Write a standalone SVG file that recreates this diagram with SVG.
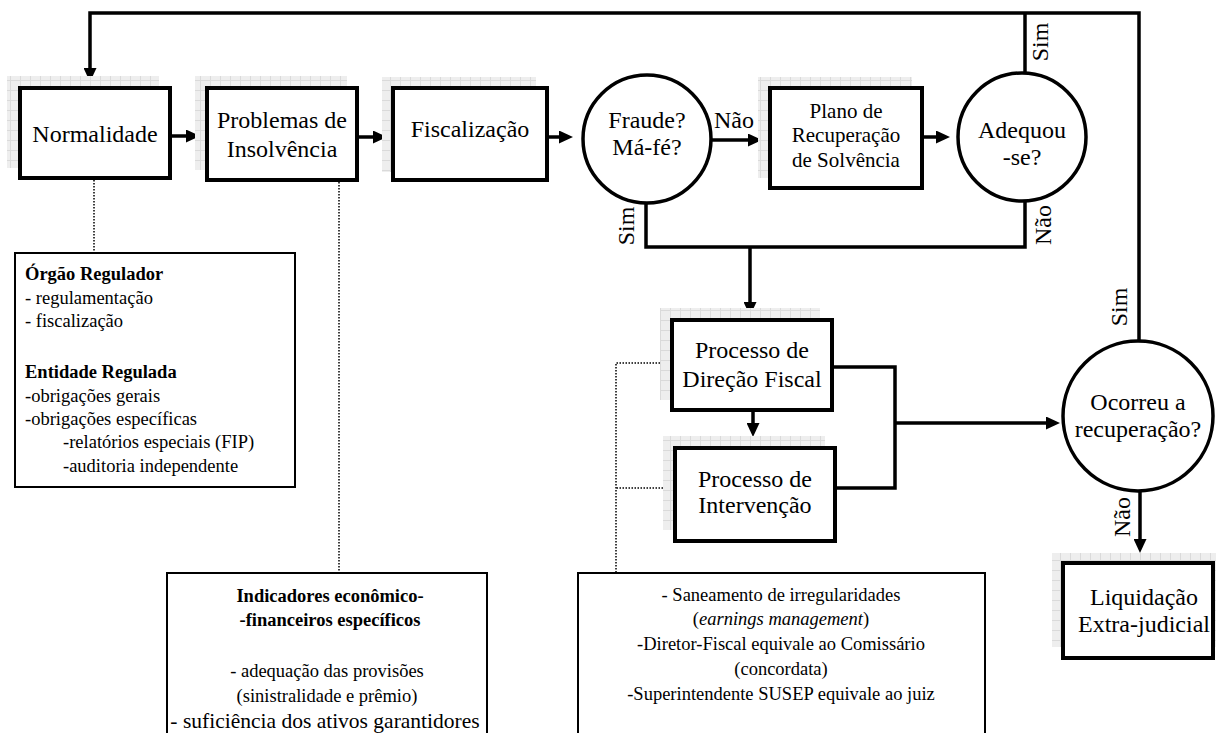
<svg xmlns="http://www.w3.org/2000/svg" width="1216" height="733" viewBox="0 0 1216 733" font-family="'Liberation Serif', 'DejaVu Serif', 'Noto Serif', 'Times New Roman', serif">
<style>
text{font-family:"Liberation Serif","DejaVu Serif","Noto Serif","Times New Roman",serif;fill:#000}
.box{fill:#fff;stroke:#000;stroke-width:4}
.circ{fill:#fff;stroke:#000;stroke-width:3.5}
.note{fill:#fff;stroke:#000;stroke-width:2}
.shadow{fill:url(#grid)}
.c{fill:none;stroke:#000;stroke-width:3.5}
.dot{fill:none;stroke:#000;stroke-width:1.5;stroke-dasharray:1.5 1.5}
.t24{font-size:24px;text-anchor:middle}
.t21{font-size:21px;text-anchor:middle}
.lab{font-size:24px;text-anchor:middle}
.n18{font-size:18.5px}
.b{font-weight:bold}
.m{text-anchor:middle}
</style>
<defs>
<pattern id="grid" width="10" height="10" patternUnits="userSpaceOnUse">
<rect width="10" height="10" fill="#eeeeee"/>
<path d="M0,0.5 H10 M0.5,0 V10" stroke="#dadada" stroke-width="1"/>
</pattern>
<marker id="ah" viewBox="0 0 14 13" refX="6" refY="6.5" markerWidth="14" markerHeight="13" markerUnits="userSpaceOnUse" orient="auto">
<path d="M0,0 L14,6.5 L0,13 Z" fill="#000"/>
</marker>
</defs>

<g id="connectors">
<path class="c" d="M1139,340 V13 H90 V74" marker-end="url(#ah)"/>
<path class="c" d="M1025,72 V13"/>
<path class="c" d="M170,136 H192" marker-end="url(#ah)"/>
<path class="c" d="M357,137 H379" marker-end="url(#ah)"/>
<path class="c" d="M547,137 H565" marker-end="url(#ah)"/>
<path class="c" d="M712,140 H754" marker-end="url(#ah)"/>
<path class="c" d="M922,137 H942" marker-end="url(#ah)"/>
<path class="c" d="M646,203 V247 H1025 V202"/>
<path class="c" d="M750,247 V308" marker-end="url(#ah)"/>
<path class="c" d="M753,410 V429" marker-end="url(#ah)"/>
<path class="c" d="M832,367 H895 V488 H835"/>
<path class="c" d="M895,423 H1052" marker-end="url(#ah)"/>
<path class="c" d="M1140,492 V545" marker-end="url(#ah)"/>
<path class="dot" d="M94,180 V253"/>
<path class="dot" d="M339,182 V573"/>
<path class="dot" d="M660,363 H616 V573"/>
<path class="dot" d="M663,488 H616"/>
<text class="lab" transform="translate(734,128)">Não</text>
<text class="lab" transform="translate(634,226) rotate(-90)">Sim</text>
<text class="lab" transform="translate(1048,42) rotate(-90)">Sim</text>
<text class="lab" transform="translate(1051,225) rotate(-90)">Não</text>
<text class="lab" transform="translate(1127,307) rotate(-90)">Sim</text>
<text class="lab" transform="translate(1130,517) rotate(-90)">Não</text>
</g>

<g id="normalidade">
<rect class="shadow" x="7" y="76" width="152" height="92"/>
<rect class="box" x="20" y="88" width="150" height="90"/>
<text class="t24" x="95" y="142">Normalidade</text>
</g>

<g id="problemas">
<rect class="shadow" x="195" y="76" width="152" height="94"/>
<rect class="box" x="207" y="88" width="150" height="92"/>
<text class="t24" x="282" y="128">Problemas de</text>
<text class="t24" x="282" y="157">Insolvência</text>
</g>

<g id="fiscalizacao">
<rect class="shadow" x="382" y="77" width="154" height="95"/>
<rect class="box" x="393" y="88" width="154" height="92"/>
<text class="t24" x="470" y="137">Fiscalização</text>
</g>

<g id="fraude">
<circle class="circ" cx="647" cy="139" r="64"/>
<text class="t24" x="647" y="128">Fraude?</text>
<text class="t24" x="647" y="155">Má-fé?</text>
</g>

<g id="plano">
<rect class="shadow" x="758" y="77" width="154" height="101"/>
<rect class="box" x="770" y="88" width="152" height="100"/>
<text class="t21" x="846" y="118">Plano de</text>
<text class="t21" x="846" y="142">Recuperação</text>
<text class="t21" x="846" y="167">de Solvência</text>
</g>

<g id="adequou">
<circle class="circ" cx="1022" cy="137" r="64"/>
<text class="t24" x="1022" y="138">Adequou</text>
<text class="t24" x="1022" y="165">-se?</text>
</g>

<g id="direcao">
<rect class="shadow" x="660" y="308" width="160" height="92"/>
<rect class="box" x="672" y="320" width="160" height="90"/>
<text class="t24" x="752" y="358">Processo de</text>
<text class="t24" x="752" y="387">Direção Fiscal</text>
</g>

<g id="intervencao">
<rect class="shadow" x="663" y="436" width="162" height="94"/>
<rect class="box" x="675" y="448" width="160" height="93"/>
<text class="t24" x="755" y="487">Processo de</text>
<text class="t24" x="755" y="513">Intervenção</text>
</g>

<g id="ocorreu">
<circle class="circ" cx="1138" cy="416" r="75"/>
<text class="t24" x="1138" y="410">Ocorreu a</text>
<text class="t24" x="1138" y="437">recuperação?</text>
</g>

<g id="liquidacao">
<rect class="shadow" x="1052" y="553" width="164" height="94"/>
<rect class="box" x="1063" y="563" width="150" height="95"/>
<text class="t24" x="1144" y="605">Liquidação</text>
<text class="t24" x="1144" y="632">Extra-judicial</text>
</g>

<g id="nota-regulador">
<rect class="note" x="15" y="253" width="280" height="234"/>
<text class="n18 b" x="25" y="280">Órgão Regulador</text>
<text class="n18" x="25" y="304">- regulamentação</text>
<text class="n18" x="25" y="327">- fiscalização</text>
<text class="n18 b" x="25" y="378">Entidade Regulada</text>
<text class="n18" x="25" y="402">-obrigações gerais</text>
<text class="n18" x="25" y="425">-obrigações específicas</text>
<text class="n18" x="63" y="448">-relatórios especiais (FIP)</text>
<text class="n18" x="63" y="472">-auditoria independente</text>
</g>

<g id="nota-indicadores">
<rect class="note" x="167" y="573" width="320" height="180"/>
<text class="n18 b m" x="330" y="602">Indicadores econômico-</text>
<text class="n18 b m" x="330" y="626">-financeiros específicos</text>
<text class="n18 m" x="327" y="677">- adequação das provisões</text>
<text class="n18 m" x="327" y="702">(sinistralidade e prêmio)</text>
<text x="325" y="728" font-size="21.5" text-anchor="middle">- suficiência dos ativos garantidores</text>
</g>

<g id="nota-processos">
<rect class="note" x="578" y="573" width="407" height="180"/>
<text class="n18 m" x="781" y="601">- Saneamento de irregularidades</text>
<text class="n18 m" x="781" y="625">(<tspan font-style="italic">earnings management</tspan>)</text>
<text class="n18 m" x="781" y="650">-Diretor-Fiscal equivale ao Comissário</text>
<text class="n18 m" x="781" y="675">(concordata)</text>
<text class="n18 m" x="781" y="700">-Superintendente SUSEP equivale ao juiz</text>
</g>
</svg>
